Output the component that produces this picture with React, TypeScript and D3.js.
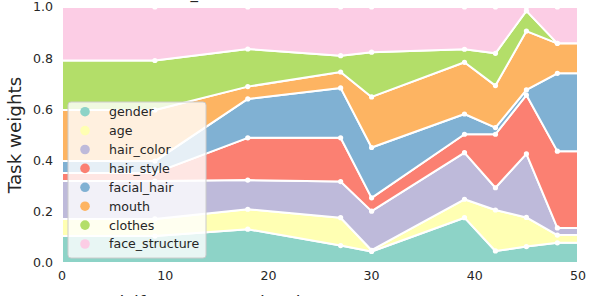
import * as d3 from "d3";

// eval steps (x) where weights were logged
const steps = [9, 18, 27, 30, 39, 42, 45, 48];

const tasks = [
  "gender",
  "age",
  "hair_color",
  "hair_style",
  "facial_hair",
  "mouth",
  "clothes",
  "face_structure",
];

const gender = [0.105, 0.132, 0.068, 0.045, 0.177, 0.047, 0.064, 0.079];
const age = [0.067, 0.078, 0.109, 0.005, 0.072, 0.16, 0.114, 0.03];
const hairColor = [0.148, 0.114, 0.141, 0.153, 0.182, 0.087, 0.248, 0.028];
const hairStyle = [0.032, 0.165, 0.171, 0.052, 0.072, 0.209, 0.23, 0.3];
const facialHair = [0.046, 0.152, 0.195, 0.197, 0.079, 0.026, 0.02, 0.304];
const mouth = [0.2, 0.048, 0.062, 0.198, 0.202, 0.164, 0.23, 0.117];
const clothes = [0.193, 0.147, 0.064, 0.175, 0.051, 0.126, 0.079, 0.0];
const faceStructure = [0.209, 0.164, 0.19, 0.177, 0.165, 0.181, 0.015, 0.142];

const series = [gender, age, hairColor, hairStyle, facialHair, mouth, clothes, faceStructure];

const colors = ["#8dd3c7", "#ffffb3", "#bebada", "#fb8072", "#80b1d3", "#fdb462", "#b3de69", "#fccde5"];

const xTicks = [0, 10, 20, 30, 40, 50];
const yTicks = [0, 0.2, 0.4, 0.6, 0.8, 1.0];

const W = 598;
const H = 296;
const margin = { top: 7, right: 20, bottom: 33, left: 62 };
const ink = "#262626";
const font = "DejaVu Sans, sans-serif";

export default function App() {
  const x = d3.scaleLinear().domain([0, 50]).range([margin.left, W - margin.right]);
  const y = d3.scaleLinear().domain([0, 1]).range([H - margin.bottom, margin.top]);

  const rowAt = (i: number, step: number) => {
    const r: any = { step };
    tasks.forEach((t, k) => (r[t] = series[k][i]));
    return r;
  };
  // the stack spans the whole x range: the first/last logged weights hold flat to the edges
  const rows = [
    rowAt(0, x.domain()[0]),
    ...steps.map((s, i) => rowAt(i, s)),
    rowAt(steps.length - 1, x.domain()[1]),
  ];

  const stacked = d3.stack<any>().keys(tasks).offset(d3.stackOffsetExpand)(rows);

  const area = d3
    .area<any>()
    .x((d) => x(d.data.step))
    .y0((d) => y(d[0]))
    .y1((d) => y(d[1]));

  const legendX = 68;
  const legendY = 102;
  const rowH = 18.9;

  return (
    <svg
      width={W}
      height={H}
      style={{ position: "absolute", left: 0, top: 0, background: "#fff" }}
      fontFamily={font}
    >
      {/* title, mostly above the crop */}
      <text x={159} y={-2.5} fontSize={15} fill={ink}>
        task_balance
      </text>

      {stacked.map((layer, k) => (
        <path
          key={tasks[k]}
          d={area(layer) || ""}
          fill={colors[k]}
          stroke="#fff"
          strokeWidth={2}
          strokeLinejoin="round"
        />
      ))}

      {/* markers on each layer's top */}
      {stacked.map((layer, k) =>
        layer
          .filter((d) => steps.includes(d.data.step))
          .map((d, i) => (
            <circle key={`${k}-${i}`} cx={x(d.data.step)} cy={y(d[1])} r={2.6} fill="#fff" />
          ))
      )}

      {/* y ticks */}
      {yTicks.map((t) => (
        <text key={t} x={margin.left - 9} y={y(t)} dy="0.35em" textAnchor="end" fontSize={12.6} fill={ink}>
          {t.toFixed(1)}
        </text>
      ))}
      {/* x ticks */}
      {xTicks.map((t) => (
        <text key={t} x={x(t)} y={H - margin.bottom + 17} textAnchor="middle" fontSize={12.6} fill={ink}>
          {t}
        </text>
      ))}

      <text
        transform={`translate(21,${(margin.top + H - margin.bottom) / 2}) rotate(-90)`}
        textAnchor="middle"
        fontSize={18.3}
        fill={ink}
      >
        Task weights
      </text>

      {/* x label, mostly below the crop */}
      <text x={323} y={308.5} textAnchor="middle" fontSize={17.5} fill={ink}>
        iLif 10000 samples, k = 0.0075061616375145
      </text>

      {/* legend */}
      <g>
        <rect
          x={legendX}
          y={legendY}
          width={138}
          height={156}
          rx={3}
          fill="#fff"
          fillOpacity={0.8}
          stroke="#cccccc"
          strokeWidth={1}
        />
        {tasks.map((t, k) => (
          <g key={t} transform={`translate(${legendX}, ${legendY + 9.7 + k * rowH})`}>
            <circle cx={17} cy={0} r={4.8} fill={colors[k]} />
            <text x={41} y={0} dy="0.35em" fontSize={12.6} fill={ink}>
              {t}
            </text>
          </g>
        ))}
      </g>
    </svg>
  );
}
